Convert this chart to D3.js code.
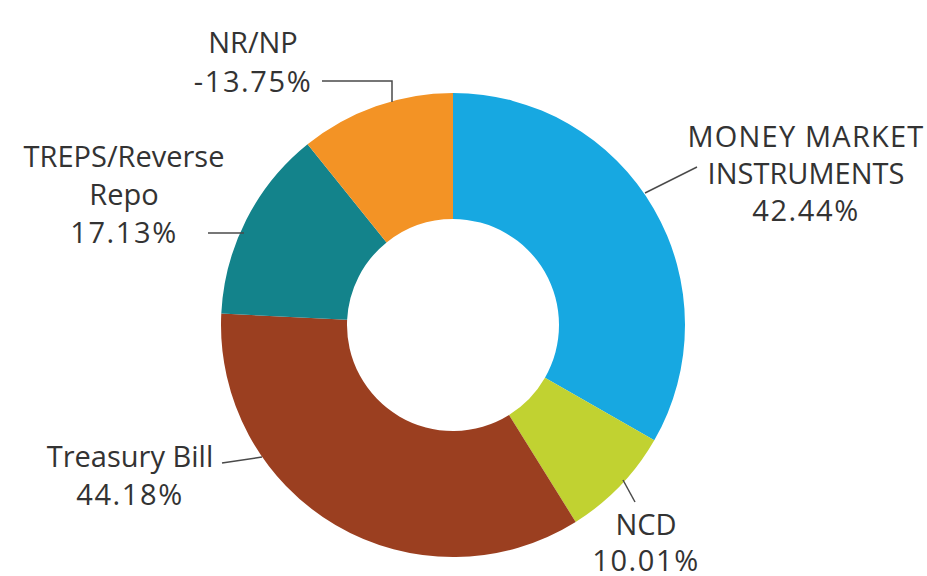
<!DOCTYPE html>
<html>
<head>
  <meta charset="utf-8">
  <title>Portfolio Donut</title>
  <style>
    body {
      margin: 0;
      background: #fff;
    }
    svg {
      display: block;
    }
    .label {
      font-family: 'Open Sans', sans-serif;
      font-size: 29px;
      fill: #333;
      text-anchor: middle;
    }
    .label.pct {
      letter-spacing: 1.6px;
    }
    .label.wide {
      letter-spacing: 1.2px;
    }
    .leader {
      fill: none;
      stroke: #4a4a4a;
      stroke-width: 1.5;
    }
  </style>
</head>
<body>
  <script src="https://d3js.org/d3.v7.min.js"></script>
  <script>
    const categories = ["MONEY MARKET INSTRUMENTS", "NCD", "Treasury Bill", "TREPS/Reverse Repo", "NR/NP"];
    const values = [42.44, 10.01, 44.18, 17.13, -13.75];
    const colors = ["#17a8e1", "#c1d231", "#9b3f20", "#13838b", "#f39325"];

    // label placement: text lines, line positions, leader polyline
    const labelLayout = [
      { lines: ["MONEY MARKET", "INSTRUMENTS"], x: 806, y: [147, 184, 221], leader: [[645, 193], [697, 167]] },
      { lines: ["NCD"], x: 646, y: [535, 571], leader: [[623, 480], [635, 502]] },
      { lines: ["Treasury Bill"], x: 130, y: [467, 505], leader: [[222, 463], [262, 457]] },
      { lines: ["TREPS/Reverse", "Repo"], x: 124, y: [167, 205, 243], leader: [[208, 233], [244, 233]] },
      { lines: ["NR/NP"], x: 253, y: [53, 92], leader: [[322, 81], [392, 81], [392, 102]] }
    ];

    const width = 927;
    const height = 576;
    const cx = 453, cy = 325;
    const outerR = 232, innerR = 106;

    const svg = d3.select("body")
      .append("svg")
      .attr("width", width)
      .attr("height", height);

    const data = categories.map((c, i) => ({ name: c, value: values[i], color: colors[i] }));

    const pie = d3.pie()
      .sort(null)
      .value(d => Math.abs(d.value));

    const arc = d3.arc()
      .innerRadius(innerR)
      .outerRadius(outerR);

    const g = svg.append("g")
      .attr("transform", `translate(${cx},${cy})`);

    g.selectAll("path")
      .data(pie(data))
      .enter()
      .append("path")
      .attr("d", arc)
      .attr("fill", d => d.data.color);

    const line = d3.line();

    labelLayout.forEach((l, i) => {
      svg.append("path")
        .attr("class", "leader")
        .attr("d", line(l.leader));

      l.lines.forEach((t, j) => {
        svg.append("text")
          .attr("class", t === "MONEY MARKET" ? "label wide" : "label")
          .attr("x", l.x)
          .attr("y", l.y[j])
          .text(t);
      });

      svg.append("text")
        .attr("class", "label pct")
        .attr("x", l.x)
        .attr("y", l.y[l.lines.length])
        .text(values[i].toFixed(2) + "%");
    });
  </script>
</body>
</html>
